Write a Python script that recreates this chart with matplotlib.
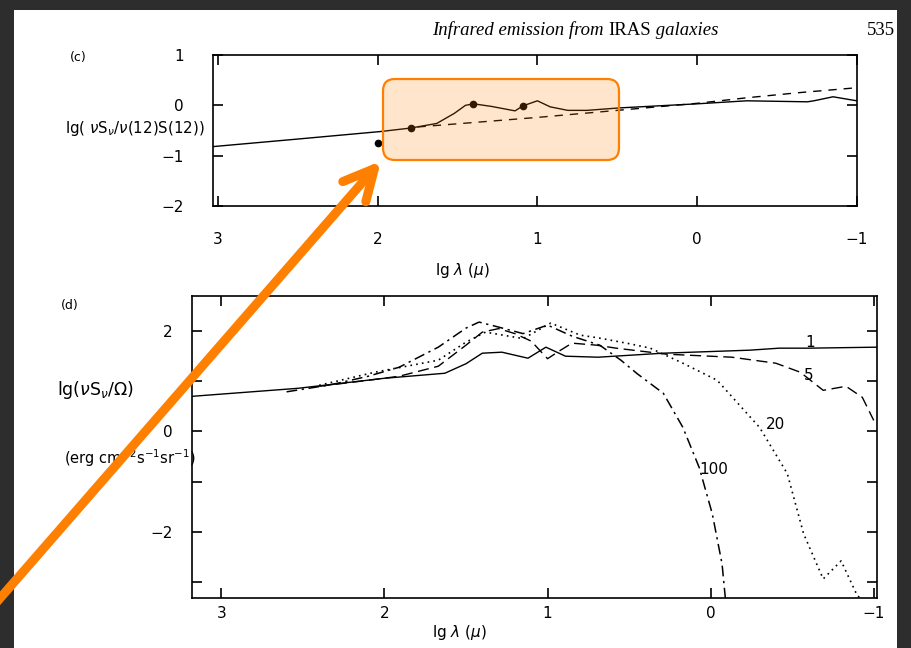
import matplotlib
matplotlib.use("Agg")
import matplotlib.pyplot as plt
from matplotlib.patches import FancyBboxPatch, FancyArrowPatch, Rectangle

# panel (c): normalised spectrum, lg(lambda) on x
c_solid_x = [3.03, 2.5, 1.98, 1.79, 1.63, 1.52, 1.45, 1.40, 1.29, 1.19, 1.14, 1.09,
             1.0, 0.92, 0.81, 0.69, 0.48, 0.0, -0.31, -0.69, -0.73, -0.85, -0.98, -1.0]
c_solid_y = [-0.82, -0.67, -0.52, -0.45, -0.36, -0.16, 0.0, 0.03, -0.02, -0.08, -0.11, -0.01,
             0.09, -0.03, -0.10, -0.10, -0.05, 0.03, 0.09, 0.07, 0.09, 0.17, 0.10, 0.09]
c_dash_x = [1.75, 1.0, 0.5, 0.0, -0.31, -0.63, -1.0]
c_dash_y = [-0.43, -0.24, -0.10, 0.04, 0.15, 0.25, 0.35]
c_dots_x = [2.0, 1.79, 1.40, 1.09]
c_dots_y = [-0.74, -0.45, 0.03, -0.01]

# panel (d): models labelled 1, 5, 20, 100
d1_x = [3.18, 2.53, 2.0, 1.63, 1.5, 1.40, 1.28, 1.12, 1.01, 0.89, 0.69, 0.29, -0.24, -0.42, -0.6, -1.02]
d1_y = [0.70, 0.86, 1.06, 1.16, 1.35, 1.56, 1.58, 1.46, 1.68, 1.50, 1.48, 1.56, 1.62, 1.66, 1.66, 1.68]
d5_x = [2.4, 2.1, 1.91, 1.67, 1.5, 1.4, 1.3, 1.2, 1.1, 1.0, 0.92, 0.85, 0.7, 0.58, 0.27,
        -0.13, -0.4, -0.55, -0.69, -0.83, -0.93, -1.0]
d5_y = [0.90, 1.02, 1.10, 1.30, 1.72, 1.98, 2.05, 1.95, 1.80, 1.45, 1.62, 1.76, 1.72, 1.66, 1.54,
        1.48, 1.36, 1.18, 0.82, 0.90, 0.68, 0.22]
d20_x = [2.4, 2.06, 1.67, 1.5, 1.38, 1.15, 0.98, 0.8, 0.68, 0.5, 0.37, 0.17, -0.04, -0.3,
         -0.47, -0.57, -0.69, -0.8, -0.9, -0.92]
d20_y = [0.92, 1.18, 1.42, 1.78, 1.98, 1.85, 2.16, 1.92, 1.86, 1.75, 1.66, 1.36, 1.02, 0.08,
         -0.84, -2.04, -2.94, -2.58, -3.28, -3.32]
d100_x = [2.6, 2.33, 2.1, 1.91, 1.67, 1.5, 1.42, 1.3, 1.15, 1.0, 0.85, 0.68, 0.55, 0.45, 0.29,
          0.17, 0.07, -0.01, -0.07, -0.09]
d100_y = [0.79, 0.93, 1.10, 1.28, 1.68, 2.06, 2.18, 2.08, 1.95, 2.12, 1.90, 1.72, 1.42, 1.15,
          0.76, 0.08, -0.72, -1.64, -2.64, -3.32]
d_labels = ["1", "5", "20", "100"]
d_label_x = [-0.61, -0.60, -0.40, -0.02]
d_label_y = [1.78, 1.12, 0.14, -0.76]

W, H = 911, 648
ORANGE = "#ff8000"

fig = plt.figure(figsize=(W / 100, H / 100), dpi=100, facecolor="#2d2d2d")
plt.rcParams['font.family'] = ['DejaVu Sans']
plt.rcParams['mathtext.fontset'] = 'dejavusans'

# white page behind the plots
bg = fig.add_axes([0, 0, 1, 1], zorder=-5)
bg.set_xlim(0, W)
bg.set_ylim(H, 0)
bg.axis('off')
bg.add_patch(Rectangle((14, 10), 883, 640, fc="white", ec="none"))


def style(ax, xpad, ypad):
    for s in ax.spines.values():
        s.set_linewidth(1.2)
    ax.tick_params(direction='in', length=7, width=1.2, top=True, right=True,
                   labelsize=11)
    ax.tick_params(axis='x', pad=xpad)
    ax.tick_params(axis='y', pad=ypad)
    ax.set_facecolor('none')


# ---- (c)
axc = fig.add_axes([213 / W, 1 - 206 / H, 644 / W, 151 / H])
axc.plot(c_solid_x, c_solid_y, color='black', lw=1.0)
axc.plot(c_dash_x, c_dash_y, color='black', lw=1.0, dashes=(6, 5))
axc.plot(c_dots_x, c_dots_y, 'o', color='black', ms=4.5)
axc.set_xlim(3.03, -1.0)
axc.set_ylim(-2, 1)
axc.set_xticks([3, 2, 1, 0, -1])
axc.set_xticklabels(['3', '2', '1', '0', '\u22121'])
axc.set_yticks([1, 0, -1, -2])
axc.set_yticklabels(['1', '0', '\u22121', '\u22122'])
style(axc, 19, 21)
fig.text(462 / W, 1 - 270 / H, r'lg $\lambda$ ($\mu$)', ha='center', va='center', fontsize=11)
fig.text(65 / W, 1 - 128 / H, r'lg( $\nu$S$_\nu$/$\nu$(12)S(12))', ha='left', va='center',
         fontsize=10.8)
fig.text(78 / W, 1 - 58 / H, '(c)', ha='center', va='center', fontsize=9)

# ---- (d)
axd = fig.add_axes([192 / W, 1 - 598 / H, 685 / W, 302 / H])
axd.plot(d1_x, d1_y, color='black', lw=1.0)
axd.plot(d5_x, d5_y, color='black', lw=1.0, dashes=(8, 4))
axd.plot(d20_x, d20_y, color='black', lw=1.2, dashes=(1, 2.5))
axd.plot(d100_x, d100_y, color='black', lw=1.1, dashes=(7, 3, 1.5, 3))
for t, x, y in zip(d_labels, d_label_x, d_label_y):
    axd.text(x, y, t, ha='center', va='center', fontsize=11)
axd.set_xlim(3.18, -1.02)
axd.set_ylim(-3.32, 2.7)
axd.set_xticks([3, 2, 1, 0, -1])
axd.set_xticklabels(['3', '2', '1', '0', '\u22121'])
axd.set_yticks([2, 1, 0, -1, -2, -3])
axd.set_yticklabels(['2', '', '0', '', '\u22122', ''])
style(axd, 6, 14)
fig.text(459 / W, 1 - 633 / H, r'lg $\lambda$ ($\mu$)', ha='center', va='center', fontsize=11)
fig.text(57 / W, 1 - 390 / H, r'lg($\nu$S$_\nu$/$\Omega$)', ha='left', va='center', fontsize=12.5)
fig.text(64 / W, 1 - 458 / H, r'(erg cm$^{-2}$s$^{-1}$sr$^{-1}$)', ha='left', va='center',
         fontsize=10.5)
fig.text(70 / W, 1 - 306 / H, '(d)', ha='center', va='center', fontsize=9)

# running header: italic title with upright IRAS
base = 1 - 35 / H
t1 = fig.text(432 / W, base, 'Infrared emission from ', family='Liberation Serif',
              style='italic', fontsize=13.5, va='baseline')
t2 = fig.text(0, 0, 'IRAS', family='Liberation Serif', fontsize=13.5, va='baseline')
t2.remove()
h2 = plt.annotate('IRAS', xy=(1, base), xycoords=(t1, 'figure fraction'),
                  family='Liberation Serif', fontsize=13.5, va='baseline', ha='left',
                  annotation_clip=False)
plt.annotate(' galaxies', xy=(1, base), xycoords=(h2, 'figure fraction'),
             family='Liberation Serif', style='italic', fontsize=13.5, va='baseline',
             ha='left', annotation_clip=False)
fig.text(895 / W, base, '535', family='Liberation Serif', fontsize=13.5,
         va='baseline', ha='right')

# highlight box and arrow on top
ov = fig.add_axes([0, 0, 1, 1], zorder=10)
ov.set_xlim(0, W)
ov.set_ylim(H, 0)
ov.axis('off')
ov.patch.set_alpha(0)
ov.add_patch(FancyBboxPatch((383, 79), 236, 81, boxstyle="round,pad=0,rounding_size=12",
                            fc=(1, 0.5, 0, 0.2), ec=ORANGE, lw=1.6))
ov.add_patch(FancyArrowPatch((-25, 627), (381, 161),
                             arrowstyle='->,head_length=1.1,head_width=0.55',
                             mutation_scale=20, lw=6.5, color=ORANGE,
                             capstyle='round', joinstyle='round',
                             shrinkA=0, shrinkB=0))

fig.savefig('out.png', dpi=100, facecolor=fig.get_facecolor())
